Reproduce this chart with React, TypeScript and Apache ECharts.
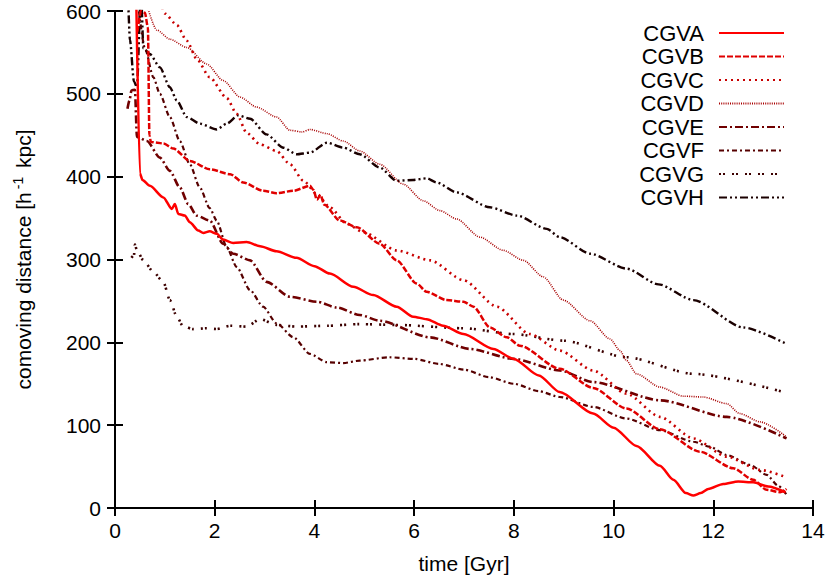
import React, { useEffect, useRef } from "react";
import * as echarts from "echarts";

// time [Gyr], comoving distance [h^-1 kpc]
const seriesNames = ["CGVA", "CGVB", "CGVC", "CGVD", "CGVE", "CGVF", "CGVG", "CGVH"];

const cgvaData = [
  [0.42, 640], [0.5, 404], [0.55, 396], [0.7, 389], [0.97, 375], [1.14, 361], [1.2, 367], [1.27, 355],
  [1.4, 353], [1.5, 345], [1.67, 335], [1.77, 332], [1.9, 334], [2.04, 331], [2.17, 324], [2.37, 320],
  [2.64, 321], [2.91, 316], [3.24, 310], [3.64, 302], [4.0, 292], [4.31, 283], [4.78, 267], [5.18, 257],
  [5.65, 243], [5.98, 231], [6.25, 228], [6.58, 220], [6.99, 210], [7.59, 192], [8.0, 180], [8.5, 160],
  [8.92, 140], [9.59, 114], [10.0, 97], [10.46, 75], [10.93, 51], [11.2, 34], [11.45, 18], [11.6, 15],
  [11.75, 18], [11.9, 23], [12.2, 29], [12.5, 32], [12.8, 31], [13.1, 26], [13.45, 19],
];
const cgvbData = [
  [0.45, 575], [0.52, 600], [0.6, 598], [0.66, 580], [0.69, 450], [0.72, 442], [0.85, 441], [0.97, 440],
  [1.17, 434], [1.5, 419], [1.9, 409], [2.31, 403], [2.57, 393], [2.97, 383], [3.24, 380], [3.58, 383],
  [3.91, 389], [3.98, 384], [4.05, 372], [4.12, 378], [4.2, 366], [4.51, 347], [4.85, 339], [5.31, 319],
  [5.65, 299], [6.05, 271], [6.25, 261], [6.65, 251], [6.99, 249], [7.19, 243], [7.52, 218], [7.86, 206],
  [8.12, 196], [8.92, 168], [9.59, 145], [10.26, 120], [10.93, 95], [11.73, 68], [12.4, 48], [12.8, 34],
  [13.07, 22], [13.34, 19], [13.47, 23],
];
const cgvcData = [
  [0.85, 625], [1.0, 597], [1.24, 583], [1.44, 564], [1.64, 542], [1.9, 520], [2.24, 495], [2.44, 476],
  [2.64, 453], [2.91, 439], [3.24, 431], [3.51, 415], [3.78, 395], [4.05, 379], [4.31, 363], [4.65, 343],
  [4.98, 333], [5.65, 311], [6.32, 299], [6.99, 275], [7.66, 243], [8.32, 210], [8.92, 190], [9.59, 166],
  [10.26, 138], [10.93, 110], [11.6, 84], [12.27, 62], [12.94, 46], [13.47, 37],
];
const cgvdData = [
  [0.6, 615], [0.84, 577], [1.1, 566], [1.44, 556], [1.84, 536], [2.17, 516], [2.51, 496], [2.84, 484],
  [3.24, 472], [3.51, 456], [3.75, 454], [3.91, 457], [4.25, 452], [4.58, 443], [4.91, 431], [5.31, 415],
  [5.78, 391], [6.18, 371], [6.52, 359], [6.85, 349], [7.32, 327], [7.79, 311], [8.19, 299], [8.59, 279],
  [8.99, 251], [9.53, 226], [9.93, 204], [10.13, 190], [10.26, 178], [10.46, 162], [10.93, 146], [11.4, 135],
  [11.8, 134], [12.27, 126], [12.53, 114], [12.94, 104], [13.47, 86],
];
const cgveData = [
  [0.25, 482], [0.29, 492], [0.33, 504], [0.4, 505], [0.44, 448], [0.64, 443], [0.9, 423], [1.1, 407],
  [1.3, 387], [1.47, 367], [1.64, 353], [1.9, 347], [2.17, 319], [2.37, 307], [2.71, 299], [3.04, 273],
  [3.51, 255], [4.05, 249], [4.45, 242], [4.91, 233], [5.31, 226], [6.32, 206], [7.12, 192], [8.0, 180],
  [8.92, 166], [9.59, 152], [10.93, 130], [12.27, 110], [13.47, 84],
];
const cgvfData = [
  [0.45, 615], [0.6, 555], [0.77, 520], [0.9, 500], [1.1, 472], [1.3, 443], [1.5, 415], [1.7, 387],
  [1.9, 362], [2.04, 347], [2.24, 315], [2.44, 291], [2.71, 263], [2.97, 243], [3.24, 223], [3.58, 206],
  [3.91, 186], [4.25, 176], [4.58, 175], [4.91, 178], [5.5, 182], [6.0, 180], [6.5, 174], [7.0, 167],
  [7.5, 158], [8.0, 150], [8.5, 141], [8.92, 134], [9.59, 122], [10.26, 108], [10.93, 94], [11.6, 80],
  [11.93, 74], [12.27, 64], [12.74, 52], [13.07, 40], [13.3, 27], [13.47, 16],
];
const cgvgData = [
  [0.33, 302], [0.38, 305], [0.4, 318], [0.44, 311], [0.57, 299], [0.77, 285], [0.97, 273], [1.1, 251],
  [1.24, 231], [1.37, 219], [1.57, 216], [1.84, 217], [2.04, 216], [2.31, 220], [2.64, 219], [2.91, 228],
  [3.24, 221], [3.64, 219], [4.25, 220], [4.91, 222], [5.65, 221], [6.99, 217], [7.99, 210], [8.99, 202],
  [10.26, 182], [11.6, 162], [13.47, 139],
];
const cgvhData = [
  [0.26, 620], [0.3, 565], [0.38, 515], [0.44, 508], [0.52, 625], [0.57, 555], [0.7, 548], [0.9, 532],
  [1.1, 508], [1.24, 492], [1.44, 472], [1.7, 464], [2.04, 457], [2.24, 464], [2.47, 474], [2.71, 470],
  [3.04, 451], [3.38, 435], [3.64, 427], [3.91, 429], [4.25, 441], [4.58, 435], [4.91, 427], [5.31, 411],
  [5.65, 395], [5.98, 396], [6.25, 398], [6.45, 393], [6.85, 381], [7.52, 363], [8.06, 353], [8.66, 337],
  [8.92, 327], [9.53, 307], [10.26, 289], [10.9, 270], [11.6, 251], [12.6, 218], [13.47, 198],
];

const allData = [cgvaData, cgvbData, cgvcData, cgvdData, cgveData, cgvfData, cgvgData, cgvhData];

const xTicks = { min: 0, max: 14, interval: 2 };
const yTicks = { min: 0, max: 600, interval: 100 };

const colors = ["#ff0000", "#e00000", "#c80000", "#a80000", "#700000", "#560000", "#3c0000", "#1a0000"];
const widths = [2.5, 2.5, 2.6, 1.6, 2.6, 2.2, 2.6, 2.4];
const dashes: any[] = [
  "solid",
  [6, 2],
  [2, 4],
  [1, 1.2],
  [8, 3, 2, 3],
  [5, 3, 2, 3],
  [2, 2, 2, 7],
  [8, 3, 2, 3, 2, 3],
];

const FONT = "Liberation Sans, Arial, Helvetica, sans-serif";

export default function App() {
  const ref = useRef<HTMLDivElement>(null);
  useEffect(() => {
    if (!ref.current) return;
    const chart = echarts.init(ref.current, null, { renderer: "svg" });
    const axisCommon = {
      axisLine: { show: true, lineStyle: { color: "#000", width: 2 } },
      axisTick: { show: true, inside: true, length: 8, lineStyle: { color: "#000", width: 2 } },
      splitLine: { show: false },
    };
    chart.setOption({
      animation: false,
      backgroundColor: "#fff",
      grid: { left: 115, right: 17, top: 11, bottom: 79, containLabel: false },
      legend: {
        orient: "vertical",
        right: 40,
        top: 17,
        align: "right",
        itemWidth: 65,
        itemHeight: 12,
        itemGap: 1.5,
        padding: 5,
        itemStyle: { color: "transparent", borderColor: "transparent", borderWidth: 0, opacity: 0 },
        textStyle: { fontSize: 22, fontFamily: FONT, color: "#000", lineHeight: 22, padding: [0, 10, 0, 0] },
        data: seriesNames,
      },
      xAxis: [
        {
          type: "value",
          ...xTicks,
          position: "bottom",
          name: "time [Gyr]",
          nameLocation: "middle",
          nameGap: 45,
          nameTextStyle: { fontSize: 21, fontFamily: FONT, color: "#000" },
          axisLabel: { fontSize: 21, fontFamily: FONT, color: "#000", margin: 12 },
          ...axisCommon,
        },
        {
          type: "value",
          ...xTicks,
          position: "top",
          axisLabel: { show: false },
          ...axisCommon,
        },
      ],
      yAxis: [
        {
          type: "value",
          ...yTicks,
          position: "left",
          name: "{t|comoving distance [h}{s|-1}{t| kpc]}",
          nameLocation: "middle",
          nameGap: 80,
          nameRotate: 90,
          nameTextStyle: {
            fontSize: 21,
            fontFamily: FONT,
            color: "#000",
            rich: {
              t: { fontSize: 21, fontFamily: FONT, color: "#000", lineHeight: 24 },
              s: { fontSize: 14, fontFamily: FONT, color: "#000", verticalAlign: "top", padding: [0, 3, 0, 3] },
            },
          },
          axisLabel: { fontSize: 21, fontFamily: FONT, color: "#000", margin: 14 },
          ...axisCommon,
        },
        {
          type: "value",
          ...yTicks,
          position: "right",
          axisLabel: { show: false },
          ...axisCommon,
        },
      ],
      series: seriesNames.map((name, i) => ({
        name,
        type: "line",
        xAxisIndex: 0,
        yAxisIndex: 0,
        data: allData[i],
        symbol: "none",
        showSymbol: false,
        smooth: 0.25,
        smoothMonotone: "x",
        clip: true,
        z: 10 - i,
        lineStyle: { color: colors[i], width: widths[i], type: dashes[i] },
        itemStyle: { color: colors[i] },
      })),
    });
    return () => chart.dispose();
  }, []);
  return <div ref={ref} style={{ position: "absolute", left: 0, top: 0, width: 830, height: 587 }} />;
}
